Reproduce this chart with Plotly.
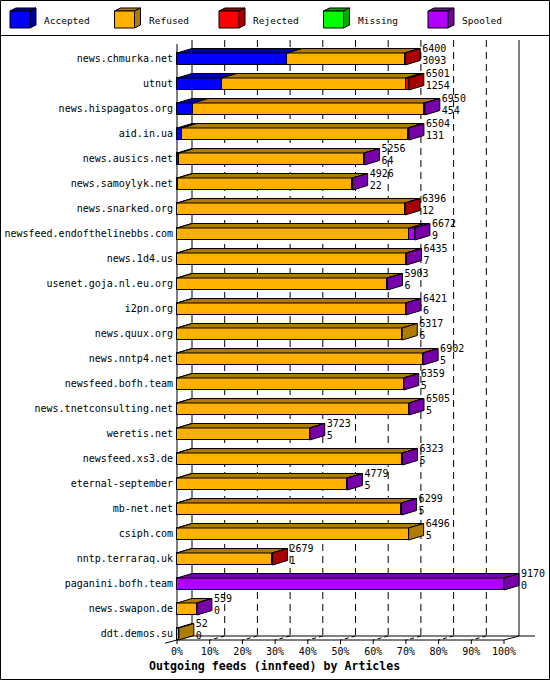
import plotly.graph_objects as go

# ---------------- data ----------------
categories = ["news.chmurka.net", "utnut", "news.hispagatos.org", "aid.in.ua",
              "news.ausics.net", "news.samoylyk.net", "news.snarked.org",
              "newsfeed.endofthelinebbs.com", "news.1d4.us", "usenet.goja.nl.eu.org",
              "i2pn.org", "news.quux.org", "news.nntp4.net", "newsfeed.bofh.team",
              "news.tnetconsulting.net", "weretis.net", "newsfeed.xs3.de",
              "eternal-september", "mb-net.net", "csiph.com", "nntp.terraraq.uk",
              "paganini.bofh.team", "news.swapon.de", "ddt.demos.su"]
offered = [6400, 6501, 6950, 6504, 5256, 4926, 6396, 6672, 6435, 5903, 6421, 6317,
           6902, 6359, 6505, 3723, 6323, 4779, 6299, 6496, 2679, 9170, 559, 52]
accepted = [3093, 1254, 454, 131, 64, 22, 12, 9, 7, 6, 6, 6,
            5, 5, 5, 5, 5, 5, 5, 5, 1, 0, 0, 0]
refused = [3292, 5157, 6486, 6333, 5187, 4899, 6379, 6503, 6423, 5892, 6410, 6311,
           6892, 6349, 6495, 3713, 6313, 4769, 6289, 6491, 2673, 0, 554, 52]
rejected = [15, 90, 0, 30, 0, 0, 5, 0, 0, 0, 0, 0,
            0, 0, 0, 0, 0, 0, 0, 0, 5, 0, 0, 0]
missing = [0, 0, 0, 0, 0, 0, 0, 0, 0, 0, 0, 0,
           0, 0, 0, 0, 0, 0, 0, 0, 0, 0, 0, 0]
spooled = [0, 0, 10, 10, 5, 5, 0, 160, 5, 5, 5, 0,
           5, 5, 5, 5, 5, 5, 5, 0, 0, 9170, 5, 0]
series_names = ["Accepted", "Refused", "Rejected", "Missing", "Spooled"]
tick_values = [0, 10, 20, 30, 40, 50, 60, 70, 80, 90, 100]
tick_labels = ["0%", "10%", "20%", "30%", "40%", "50%", "60%", "70%", "80%", "90%", "100%"]
title_text = "Outgoing feeds (innfeed) by Articles"

# ---------------- styling ----------------
FRONT = {"Accepted": "#0000FF", "Refused": "#FFB000", "Rejected": "#FF0000",
         "Missing": "#00FF00", "Spooled": "#B000FF"}
DARK = {"Accepted": "#0000A8", "Refused": "#B07C00", "Rejected": "#A80000",
        "Missing": "#00A800", "Spooled": "#7800A8"}
MONO = "DejaVu Sans Mono"

W, H = 550, 680
X0PX, PXPCT = 177.0, 3.27        # front 0% pixel, pixels per percent
ROW0PX, ROWPX = 59.0, 25.0        # first row centre, row pitch
DXPX, DYPX, BARPX = 15.0, 4.5, 12.0


def X(px):
    return (px - X0PX) / PXPCT


def Y(px):
    return (px - ROW0PX) / ROWPX


DXU = DXPX / PXPCT
DYU = DYPX / ROWPX
HB = BARPX / ROWPX / 2

series = [accepted, refused, rejected, missing, spooled]
top = max(offered)
pct = [[v * 100.0 / top for v in s] for s in series]
rows = list(range(len(categories)))

fig = go.Figure()

# front faces (stacked bars)
for name, vals in zip(series_names, pct):
    fig.add_bar(y=rows, x=vals, orientation="h", width=2 * HB,
                marker=dict(color=FRONT[name], line=dict(color="black", width=1)),
                hoverinfo="skip", showlegend=False)

# top faces per segment
for k, name in enumerate(series_names):
    xs, ys = [], []
    for r in rows:
        a = sum(pct[j][r] for j in range(k))
        b = a + pct[k][r]
        if pct[k][r] <= 0:
            continue
        yt = r - HB
        xs += [a, b, b + DXU, a + DXU, a, None]
        ys += [yt, yt, yt - DYU, yt - DYU, yt, None]
    if xs:
        fig.add_scatter(x=xs, y=ys, mode="lines", fill="toself",
                        fillcolor=DARK[name], line=dict(color="black", width=1),
                        hoverinfo="skip", showlegend=False)

# side faces coloured by last non-empty segment
side = {n: ([], []) for n in series_names}
ends = []
for r in rows:
    last = None
    for k, name in enumerate(series_names):
        if series[k][r] > 0:
            last = name
    b = sum(pct[j][r] for j in range(len(series)))
    ends.append(b)
    xs, ys = side[last]
    yt, yb = r - HB, r + HB
    xs += [b, b + DXU, b + DXU, b, b, None]
    ys += [yt, yt - DYU, yb - DYU, yb, yt, None]
for name in series_names:
    xs, ys = side[name]
    if xs:
        fig.add_scatter(x=xs, y=ys, mode="lines", fill="toself",
                        fillcolor=DARK[name], line=dict(color="black", width=1),
                        hoverinfo="skip", showlegend=False)

# category labels
fig.add_scatter(x=[X(173)] * len(rows), y=rows, mode="text", text=categories,
                textposition="middle left",
                textfont=dict(family=MONO, size=10, color="black"),
                hoverinfo="skip", showlegend=False)

# value labels (offered / accepted)
lx = [e + DXU + X(X0PX + 2) for e in ends]
fig.add_scatter(x=lx, y=[r - 10 / ROWPX for r in rows], mode="text",
                text=[str(v) for v in offered], textposition="middle right",
                textfont=dict(family=MONO, size=10, color="black"),
                hoverinfo="skip", showlegend=False)
fig.add_scatter(x=lx, y=[r + 2 / ROWPX for r in rows], mode="text",
                text=[str(v) for v in accepted], textposition="middle right",
                textfont=dict(family=MONO, size=10, color="black"),
                hoverinfo="skip", showlegend=False)

# x tick labels
fig.add_scatter(x=tick_values, y=[Y(652)] * len(tick_values), mode="text",
                text=tick_labels, textposition="middle center",
                textfont=dict(family=MONO, size=10, color="black"),
                hoverinfo="skip", showlegend=False)

# ---------------- frame / grid ----------------
shapes = []
BK_TOP, BK_BOT, FR_TOP, FR_BOT = Y(40), Y(636), Y(44), Y(640)


def seg(x0, y0, x1, y1, dash="solid", layer="below"):
    shapes.append(dict(type="line", xref="x", yref="y", x0=x0, y0=y0, x1=x1, y1=y1,
                       line=dict(color="black", width=1, dash=dash), layer=layer))


for t in tick_values[1:-1]:
    seg(t + DXU, BK_TOP, t + DXU, BK_BOT, dash="7px,5px")
    seg(t + DXU, BK_BOT, t, FR_BOT, dash="4px,3px")
for t in tick_values:
    seg(t, FR_BOT, t, Y(644))
seg(DXU, BK_TOP, DXU, BK_BOT)
seg(0, FR_TOP, 0, FR_BOT)
seg(100 + DXU, BK_TOP, 100 + DXU, BK_BOT)
seg(DXU, BK_BOT, X(535), BK_BOT)
seg(0, FR_BOT, 100, FR_BOT)
seg(100, FR_BOT, 100 + DXU, BK_BOT)
seg(X(165), Y(643.2), DXU, BK_BOT)


def P(px, py):
    return px / W, 1 - py / H


def path(points):
    s = ""
    for i, (px, py) in enumerate(points):
        x, y = P(px, py)
        s += ("M" if i == 0 else "L") + f"{x:.5f},{y:.5f} "
    return s + "Z"


# outer border and legend separator
shapes.append(dict(type="rect", xref="paper", yref="paper",
                   x0=0.5 / W, y0=1 - 679.5 / H, x1=549.5 / W, y1=1 - 0.5 / H,
                   line=dict(color="black", width=1), layer="above"))
shapes.append(dict(type="line", xref="paper", yref="paper",
                   x0=0, y0=1 - 35.5 / H, x1=1, y1=1 - 35.5 / H,
                   line=dict(color="black", width=1)))

annotations = []
for i, name in enumerate(series_names):
    x0 = 10 + 104.5 * i
    front = [(x0, 11), (x0 + 20, 11), (x0 + 20, 28), (x0, 28)]
    topf = [(x0, 11), (x0 + 6, 8), (x0 + 26, 8), (x0 + 20, 11)]
    sidef = [(x0 + 20, 11), (x0 + 26, 8), (x0 + 26, 25), (x0 + 20, 28)]
    for pts, col in ((topf, DARK[name]), (sidef, DARK[name]), (front, FRONT[name])):
        shapes.append(dict(type="path", xref="paper", yref="paper", path=path(pts),
                           fillcolor=col, line=dict(color="black", width=1),
                           layer="above"))
    tx, ty = P(x0 + 32, 20)
    annotations.append(dict(text=name, x=tx, y=ty, xref="paper", yref="paper",
                            xanchor="left", yanchor="middle", showarrow=False,
                            font=dict(family=MONO, size=9.5, color="black")))

tx, ty = P(147, 666)
annotations.append(dict(text=f"<b>{title_text}</b>", x=tx, y=ty, xref="paper",
                        yref="paper", xanchor="left", yanchor="middle",
                        showarrow=False,
                        font=dict(family=MONO, size=11.6, color="black")))

fig.update_layout(
    width=W, height=H, margin=dict(l=0, r=0, t=0, b=0),
    paper_bgcolor="white", plot_bgcolor="white",
    barmode="stack", bargap=0, showlegend=False,
    xaxis=dict(range=[X(0), X(W)], visible=False, fixedrange=True),
    yaxis=dict(range=[Y(H), Y(0)], visible=False, fixedrange=True),
    shapes=shapes, annotations=annotations,
)

fig.write_html("out.html", config={"displayModeBar": False},
               post_script="document.body.style.margin='0';document.body.style.overflow='hidden';")
